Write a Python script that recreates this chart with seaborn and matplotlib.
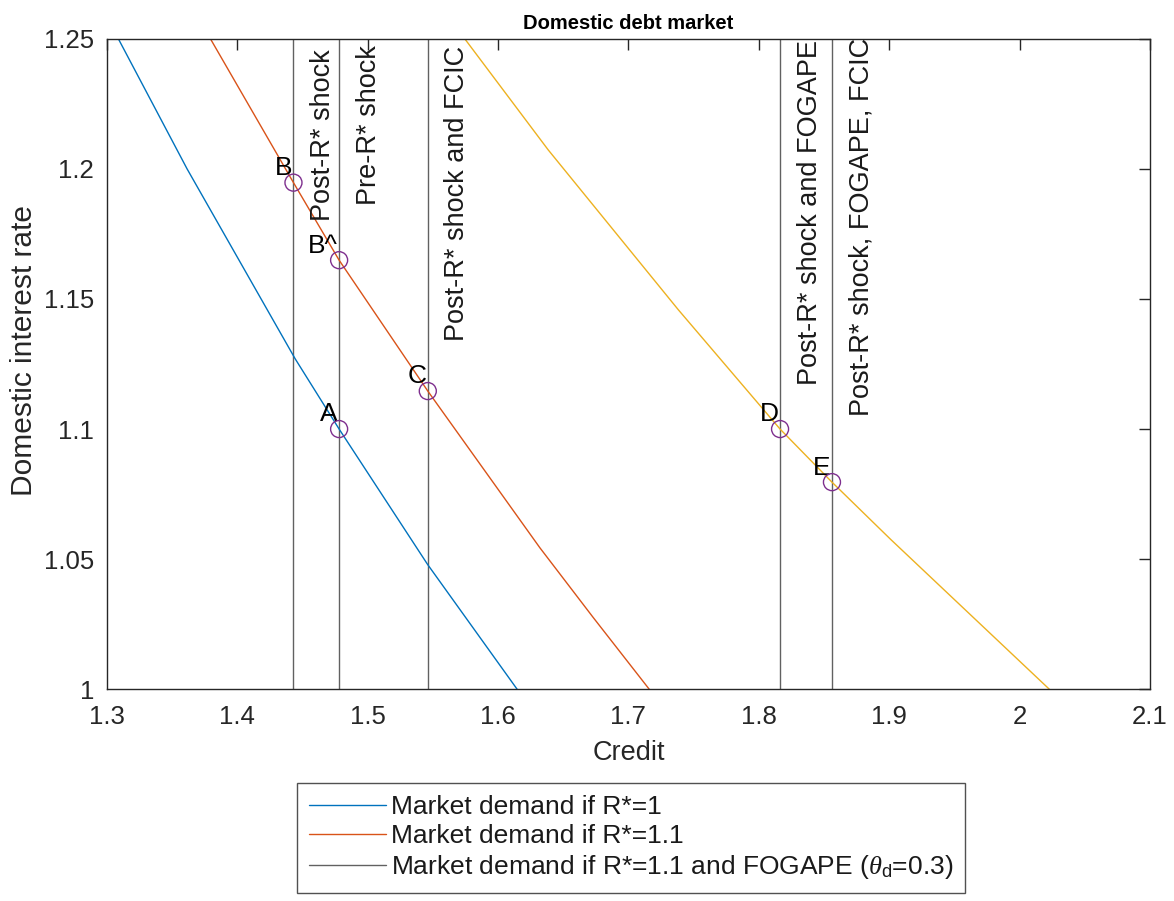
import numpy as np
import pandas as pd
import matplotlib
matplotlib.use("Agg")
import matplotlib.pyplot as plt
import seaborn as sns
from matplotlib.lines import Line2D

# ---- data ----
blue_x = [1.3089, 1.3616, 1.4445, 1.4782, 1.5460, 1.6147]
blue_y = [1.25, 1.20, 1.127, 1.10, 1.048, 1.00]

orange_x = [1.3795, 1.4432, 1.4782, 1.5462, 1.6321, 1.6730, 1.7160]
orange_y = [1.25, 1.1947, 1.1649, 1.1146, 1.0544, 1.0276, 1.00]

yellow_x = [1.5745, 1.6385, 1.7382, 1.8163, 1.8561, 1.9011, 2.0228]
yellow_y = [1.25, 1.2073, 1.1459, 1.10, 1.0796, 1.0576, 1.00]

point_x = [1.4432, 1.4782, 1.4782, 1.5462, 1.8163, 1.8561]
point_y = [1.1947, 1.1649, 1.10, 1.1146, 1.10, 1.0796]
point_labels = ["B", "B^", "A", "C", "D", "E"]

vline_x = [1.4432, 1.4782, 1.5462, 1.8163, 1.8561]
vline_text = ["Post-R* shock", "Pre-R* shock", "Post-R* shock and FCIC",
              "Post-R* shock and FOGAPE", "Post-R* shock, FOGAPE, FCIC"]
vline_text_y = [1.180, 1.186, 1.134, 1.117, 1.105]

legend_labels = ["Market demand if R*=1", "Market demand if R*=1.1",
                 r"Market demand if R*=1.1 and FOGAPE ($\theta_{\mathrm{d}}$=0.3)"]

x_ticks = [1.3, 1.4, 1.5, 1.6, 1.7, 1.8, 1.9, 2.0, 2.1]
x_ticklabels = ["1.3", "1.4", "1.5", "1.6", "1.7", "1.8", "1.9", "2", "2.1"]
y_ticks = [1.0, 1.05, 1.1, 1.15, 1.2, 1.25]
y_ticklabels = ["1", "1.05", "1.1", "1.15", "1.2", "1.25"]

# ---- style ----
sns.set_theme(style="white")
plt.rcParams["font.family"] = ["Liberation Sans", "DejaVu Sans"]
plt.rcParams["mathtext.fontset"] = "custom"
plt.rcParams["mathtext.it"] = "Liberation Serif:italic"
plt.rcParams["mathtext.rm"] = "Liberation Sans"

C_BLUE = (0.0, 0.447, 0.741)
C_ORANGE = (0.850, 0.325, 0.098)
C_YELLOW = (0.929, 0.694, 0.125)
C_PURPLE = (0.494, 0.184, 0.556)
C_VLINE = "0.38"
C_AX = "0.15"

fig = plt.figure(figsize=(11.74, 9.01), dpi=100)
ax = fig.add_axes([0.0909, 0.235, 0.9796 - 0.0909, 0.957 - 0.235])

df_b = pd.DataFrame({"x": blue_x, "y": blue_y})
df_o = pd.DataFrame({"x": orange_x, "y": orange_y})
df_y = pd.DataFrame({"x": yellow_x, "y": yellow_y})
sns.lineplot(data=df_b, x="x", y="y", ax=ax, color=C_BLUE, lw=1.0, sort=False)
sns.lineplot(data=df_o, x="x", y="y", ax=ax, color=C_ORANGE, lw=1.0, sort=False)
sns.lineplot(data=df_y, x="x", y="y", ax=ax, color=C_YELLOW, lw=1.0, sort=False)

for xv in vline_x:
    ax.axvline(xv, color=C_VLINE, lw=1.0, zorder=1)

for xv, t, ty in zip(vline_x, vline_text, vline_text_y):
    ax.text(xv + 0.028, ty, t, rotation=90, rotation_mode="anchor",
            ha="left", va="baseline", fontsize=19.5, color="0.1")

df_p = pd.DataFrame({"x": point_x, "y": point_y})
sns.scatterplot(data=df_p, x="x", y="y", ax=ax, marker="o", s=150,
                facecolor="none", edgecolor=C_PURPLE, linewidth=1.0, zorder=5)
for xv, yv, lab in zip(point_x, point_y, point_labels):
    ax.text(xv - 0.001, yv + 0.001, lab, ha="right", va="bottom", fontsize=19, color="black")

ax.set_xlim(1.3, 2.1)
ax.set_ylim(1.0, 1.25)
ax.set_xticks(x_ticks)
ax.set_xticklabels(x_ticklabels)
ax.set_yticks(y_ticks)
ax.set_yticklabels(y_ticklabels)
ax.tick_params(direction="in", length=8, width=1.0, color=C_AX, labelcolor=C_AX,
               labelsize=18.5, top=True, right=True)
ax.tick_params(axis="x", pad=11)
ax.tick_params(axis="y", pad=9)
for s in ax.spines.values():
    s.set_visible(True)
    s.set_color(C_AX)
    s.set_linewidth(1.0)
ax.set_xlabel("Credit", fontsize=19.5, color=C_AX, labelpad=8)
ax.set_ylabel("Domestic interest rate", fontsize=21.5, color=C_AX)
ax.yaxis.set_label_coords(-0.066, 0.52)
ax.set_title("Domestic debt market", fontsize=14.5, fontweight="bold", color="black", pad=7)

handles = [Line2D([0], [0], color=C_BLUE, lw=1.0),
           Line2D([0], [0], color=C_ORANGE, lw=1.0),
           Line2D([0], [0], color=C_VLINE, lw=1.0)]
leg = fig.legend(handles, legend_labels, loc="upper center", bbox_to_anchor=(0.5375, 0.131),
                 fontsize=19, frameon=True, fancybox=False, handlelength=2.9,
                 handletextpad=0.2, labelspacing=0.2, borderpad=0.45, borderaxespad=0.0)
leg.get_frame().set_edgecolor(C_AX)
leg.get_frame().set_linewidth(1.0)
for t in leg.get_texts():
    t.set_color("0.1")

fig.savefig("out.png", dpi=100)
